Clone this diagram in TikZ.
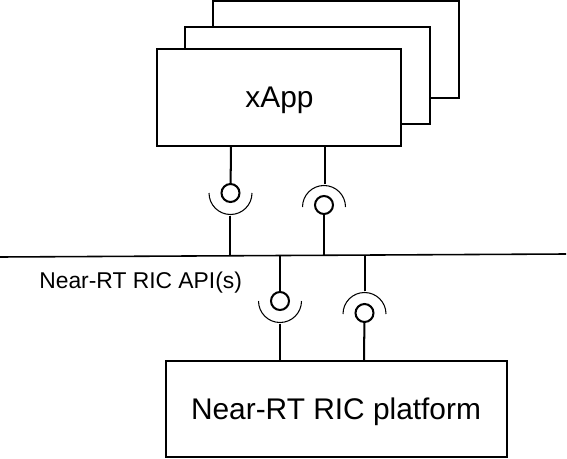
\documentclass[tikz,border=0pt]{standalone}
\usepackage{fontspec}
\setmainfont{Liberation Sans}
\usetikzlibrary{calc}
\tikzset{
  appbox/.style={draw=black, fill=white, line width=1.15pt, inner sep=0pt},
  port/.style={circle, draw=black, fill=white, line width=1.15pt, minimum size=18*0.02cm, inner sep=0pt},
  wire/.style={black, line width=1.15pt},
  cup/.style={black, line width=0.6pt}
}

\begin{document}
\begin{tikzpicture}[x=0.02cm, y=-0.02cm]

% Canvas, in reference pixels
\useasboundingbox (0,0) rectangle (567,459);
\fill[white] (0,0) rectangle (567,459);

% Stack of xApp boxes
\node[appbox, minimum width=246*0.02cm, minimum height=97*0.02cm] (xappC) at (336,49.5) {};
\node[appbox, minimum width=245*0.02cm, minimum height=97*0.02cm] (xappB) at (307.5,75.5) {};
\node[appbox, minimum width=244*0.02cm, minimum height=97*0.02cm] (xappA) at (279,97.5) {};
\node[font=\fontsize{17pt}{20pt}\selectfont, anchor=base, inner sep=0pt] (xapplabel) at (279.5,107.5) {xApp};

% Platform box
\node[appbox, minimum width=341*0.02cm, minimum height=96*0.02cm] (platform) at (336.5,409) {};
\node[font=\fontsize{17pt}{20pt}\selectfont, anchor=base, inner sep=0pt] (platformlabel) at (336,419) {Near-RT RIC platform};

% API line
\coordinate (busL) at (0,257);
\coordinate (busR) at (566,254);
\draw[black, line width=0.9pt] (busL) -- (busR);
\node[font=\fontsize{13pt}{15pt}\selectfont, anchor=base west, inner sep=0pt] (apilabel) at (39,288) {Near-RT RIC API(s)};

% Ports
\node[port] (portA) at (230.5,193) {};
\node[port] (portB) at (324,205) {};
\node[port] (portC) at (280,301) {};
\node[port] (portD) at (364.5,313) {};

% Cups, below or above the port
\draw[cup] ($(portA)+(21.5,0)$) arc[start angle=0, end angle=180, x radius=21.5, y radius=21.5];
\draw[cup] ($(portB)+(21.5,2)$) arc[start angle=0, end angle=-180, x radius=21.5, y radius=21.5];
\draw[cup] ($(portC)+(21.5,0)$) arc[start angle=0, end angle=180, x radius=21.5, y radius=21.5];
\draw[cup] ($(portD)+(21.5,1)$) arc[start angle=0, end angle=-180, x radius=21.5, y radius=21.5];

% Free ends of the wires
\coordinate (stemA) at (231,146);
\coordinate (cupA) at (230,215.5);
\coordinate (tapA) at (230,254.5);
\coordinate (stemB) at (325,146);
\coordinate (cupB) at (325,184);
\coordinate (tapB) at (324,254.5);
\coordinate (tapC) at (280,255.5);
\coordinate (cupC) at (280,323.5);
\coordinate (tapD) at (365,255);
\coordinate (cupD) at (365,291);
\coordinate (baseD) at (364,361);

% Wires
\draw[wire] (stemA) -- (portA);
\draw[wire] (cupA) -- (tapA);
\draw[wire] (stemB) -- (cupB);
\draw[wire] (portB) -- (tapB);
\draw[wire] (tapC) -- (portC);
\draw[wire] (cupC) -- (cupC |- platform.north);
\draw[wire] (tapD) -- (cupD);
\draw[wire] (portD) -- (baseD);

\end{tikzpicture}
\end{document}
